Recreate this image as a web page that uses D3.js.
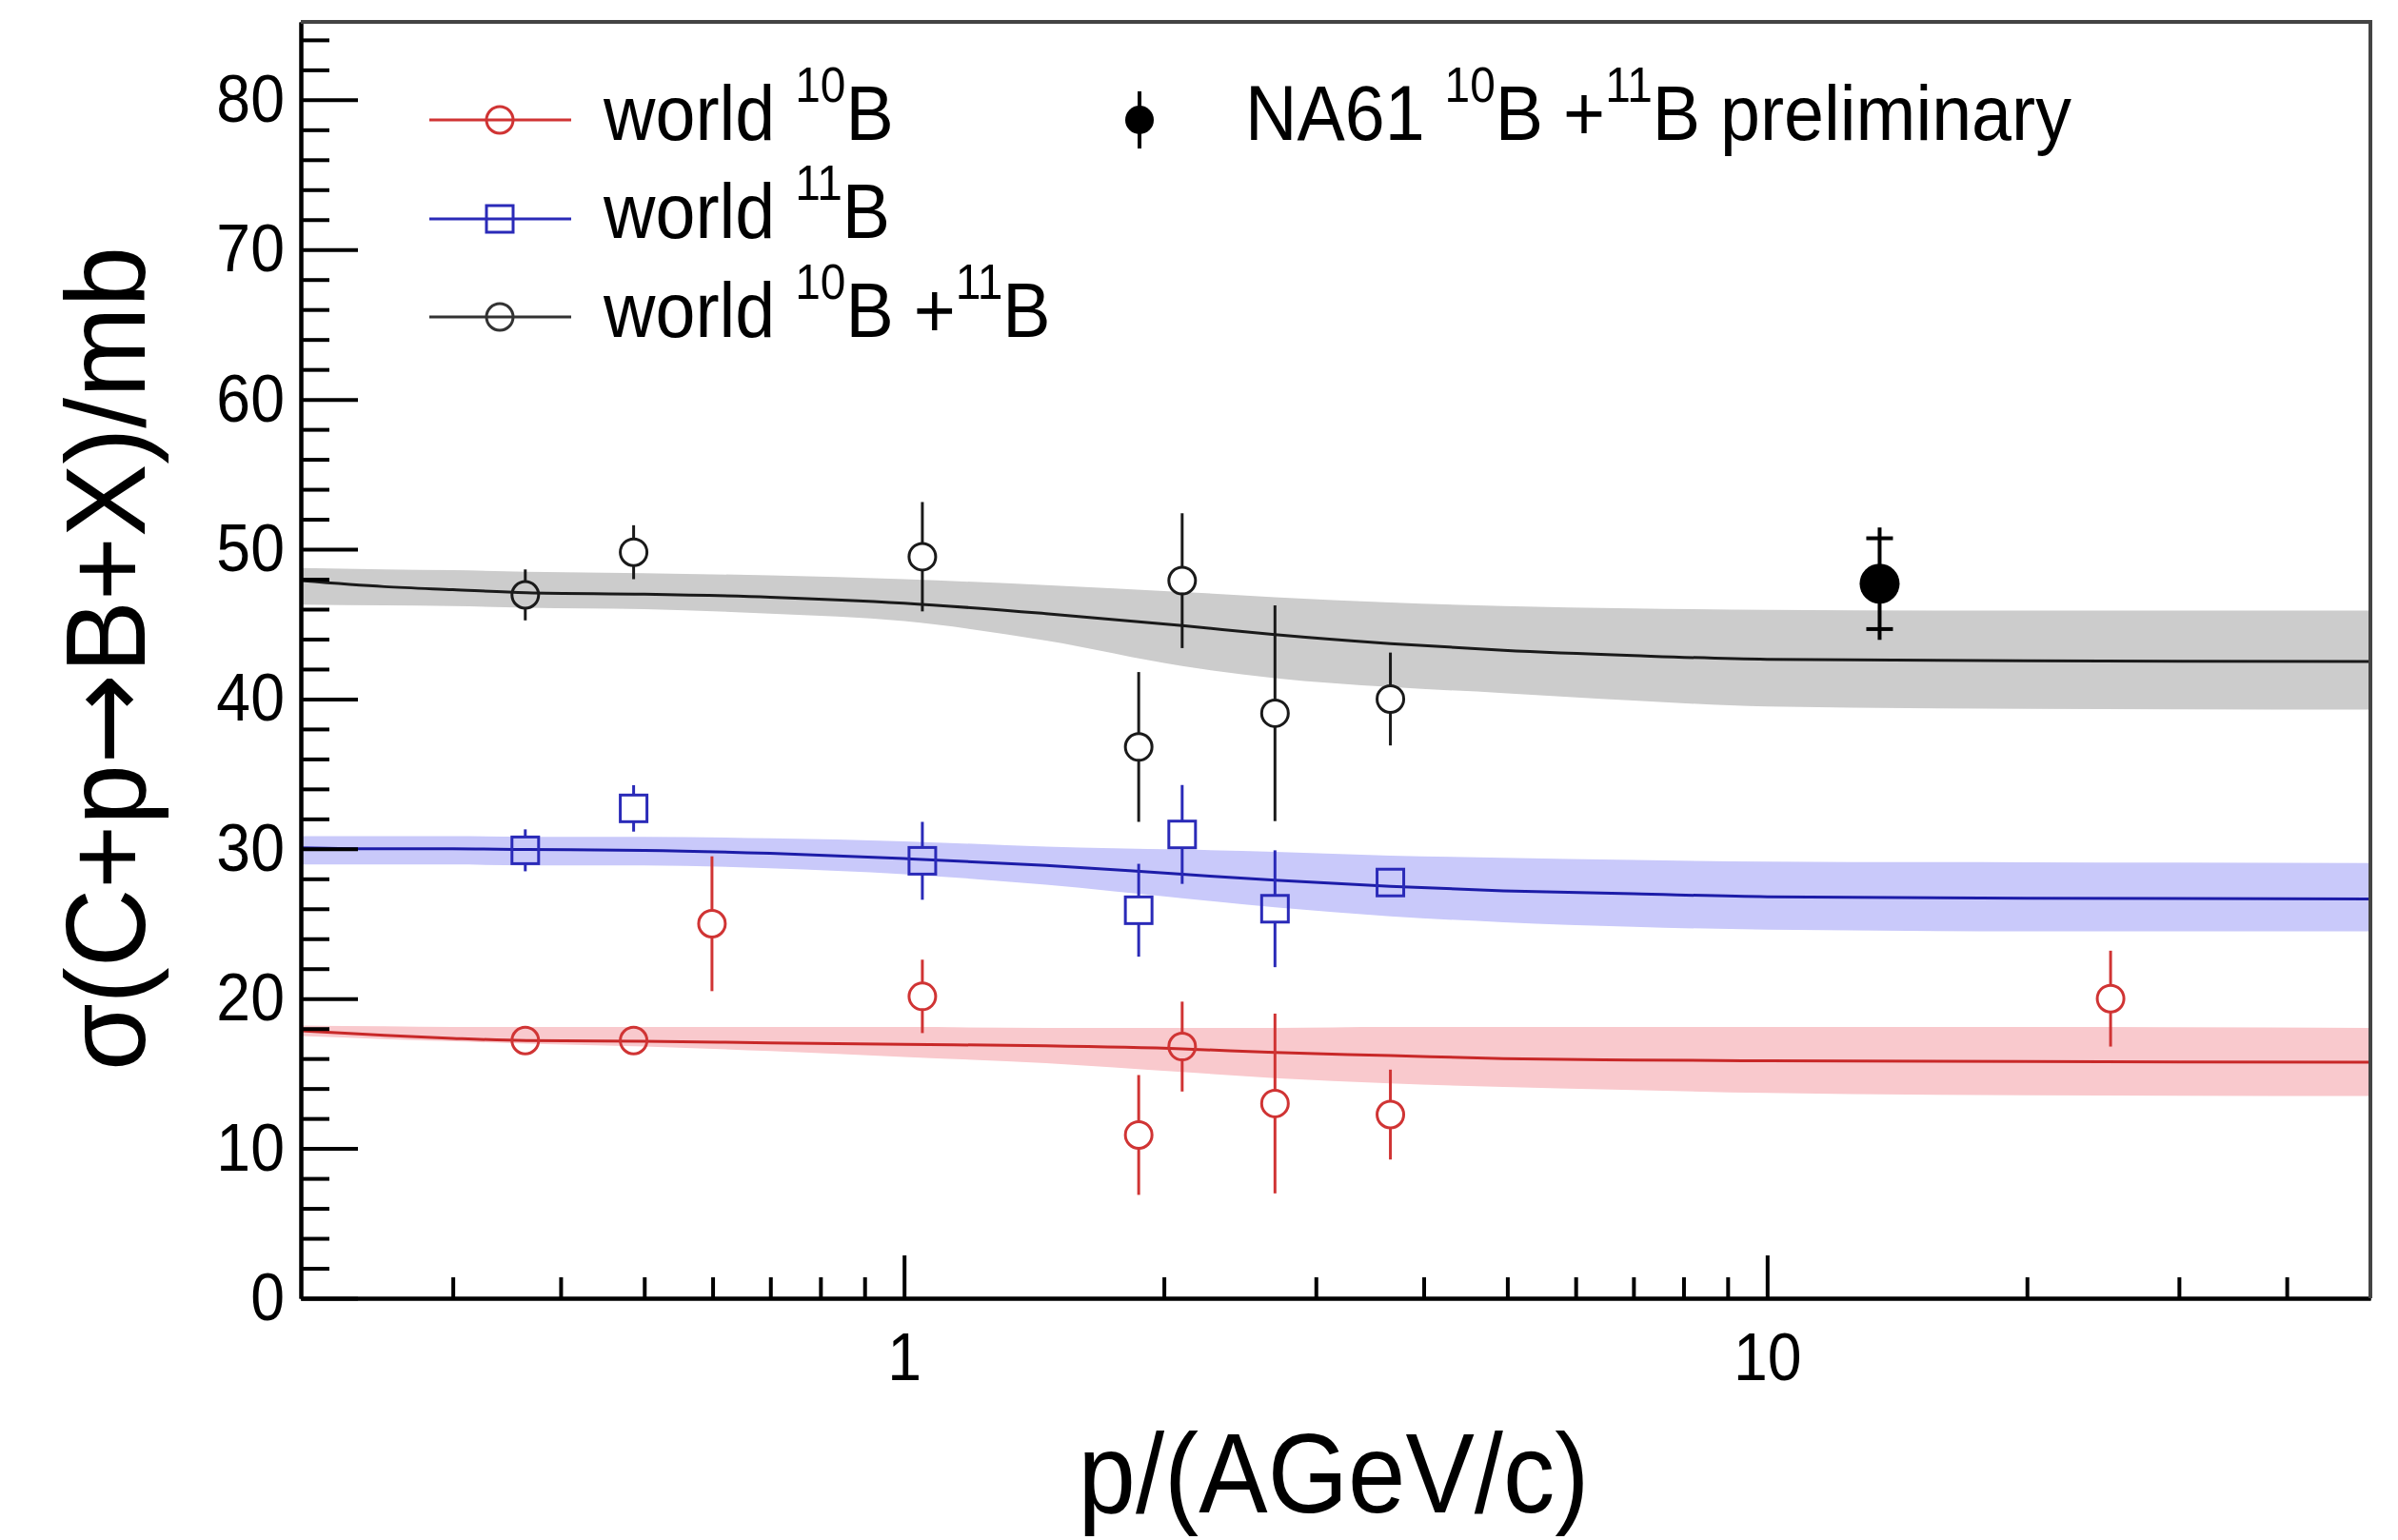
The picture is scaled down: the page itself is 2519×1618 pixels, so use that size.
<!DOCTYPE html>
<html>
<head>
<meta charset="utf-8">
<script src="https://cdn.jsdelivr.net/npm/d3@7"></script>
<style>
  body { margin: 0; background: #fff; }
  text { font-family: "Liberation Sans", Arial, Helvetica, sans-serif; fill: #000; }
</style>
</head>
<body>
<script>
// measured points, world data
const pB10 = [0.364, 0.486, 0.599, 1.05, 1.87, 2.10, 2.69, 3.66, 25.0];
const sB10 = [17.2, 17.2, 25.0, 20.15, 10.9, 16.8, 13.0, 12.26, 20.0];
const eB10 = [0.6, 0.6, 4.5, 2.45, 4.0, 3.0, 6.0, 3.0, 3.2];

const pB11 = [0.364, 0.486, 1.05, 1.87, 2.10, 2.69, 3.66];
const sB11 = [29.9, 32.7, 29.2, 25.9, 30.96, 26.0, 27.75];
const eB11 = [1.4, 1.55, 2.6, 3.1, 3.3, 3.9, 0.8];

const pSum = [0.364, 0.486, 1.05, 1.87, 2.10, 2.69, 3.66];
const sSum = [46.95, 49.8, 49.5, 36.8, 47.9, 39.05, 40.0];
const eSum = [1.7, 1.8, 3.65, 5.0, 4.5, 7.2, 3.1];

// NA61 preliminary
const pNA61 = [13.5];
const sNA61 = [47.7];
const statNA61 = [3.75];
const sysNA61 = [3.03];

// fitted curves and their bands
const fitP = [0.2, 0.25, 0.3, 0.365, 0.5, 0.7, 1, 1.46, 2.1, 2.69, 3.66, 4.95, 7, 10, 20, 50];
const fitSum = [47.9, 47.5, 47.3, 47.1, 47.0, 46.8, 46.4, 45.7, 44.9, 44.3, 43.7, 43.25, 42.9, 42.65, 42.55, 42.5];
const fitSumHi = [48.75, 48.65, 48.6, 48.5, 48.4, 48.25, 48.0, 47.6, 47.15, 46.8, 46.45, 46.2, 46.05, 45.95, 45.9, 45.9];
const fitSumLo = [46.3, 46.25, 46.2, 46.1, 46.0, 45.7, 45.2, 43.9, 42.2, 41.4, 40.8, 40.4, 39.9, 39.5, 39.35, 39.3];
const fitB11 = [30.07, 30.0, 30.0, 29.95, 29.9, 29.7, 29.35, 28.9, 28.3, 27.9, 27.5, 27.2, 27.0, 26.8, 26.7, 26.65];
const fitB11Hi = [30.85, 30.85, 30.85, 30.8, 30.8, 30.7, 30.5, 30.15, 29.95, 29.8, 29.55, 29.4, 29.25, 29.15, 29.1, 29.05];
const fitB11Lo = [28.95, 28.95, 28.95, 28.9, 28.9, 28.7, 28.3, 27.6, 26.7, 26.1, 25.5, 25.1, 24.8, 24.6, 24.5, 24.5];
const fitB10 = [17.85, 17.55, 17.35, 17.2, 17.15, 17.05, 16.95, 16.85, 16.65, 16.4, 16.2, 16.0, 15.9, 15.85, 15.8, 15.75];
const fitB10Hi = [18.2, 18.15, 18.1, 18.1, 18.1, 18.1, 18.1, 18.05, 18.05, 18.05, 18.1, 18.1, 18.1, 18.1, 18.1, 18.05];
const fitB10Lo = [17.5, 17.3, 17.15, 17.0, 16.8, 16.5, 16.1, 15.7, 15.1, 14.7, 14.35, 14.1, 13.9, 13.7, 13.55, 13.5];

// axis ticks
const xMajor = [1, 10];
const xMinor = [0.3, 0.4, 0.5, 0.6, 0.7, 0.8, 0.9, 2, 3, 4, 5, 6, 7, 8, 9, 20, 30, 40];
const yMajor = [0, 10, 20, 30, 40, 50, 60, 70, 80];
const yMinor = d3.range(2, 86, 2).filter(v => v % 10 !== 0);

const W = 2519, H = 1618;
const mLeft = 316, mRight = 2490, mTop = 23, mBottom = 1364;
const SX = 0.92;

const red = "#d03434", blue = "#2a2ab8", black = "#1a1a1a";

const svg = d3.select("body")
    .append("svg")
    .attr("width", W)
    .attr("height", H);

const x = d3.scaleLog().domain([0.2, 50]).range([mLeft, mRight]);
const y = d3.scaleLinear().domain([0, 85.2]).range([mBottom, mTop]);

svg.append("clipPath").attr("id", "clip")
    .append("rect")
    .attr("x", mLeft).attr("y", mTop)
    .attr("width", mRight - mLeft).attr("height", mBottom - mTop);

const plot = svg.append("g").attr("clip-path", "url(#clip)");

// bands and fit lines
const fits = [
    {mid: fitSum, hi: fitSumHi, lo: fitSumLo, band: "#cccccc", line: black},
    {mid: fitB11, hi: fitB11Hi, lo: fitB11Lo, band: "#c9c9fa", line: "#1c1ca8"},
    {mid: fitB10, hi: fitB10Hi, lo: fitB10Lo, band: "#f9c9cd", line: "#c82828"}
];

const area = d3.area()
    .x(d => x(d.p))
    .y0(d => y(d.lo))
    .y1(d => y(d.hi))
    .curve(d3.curveMonotoneX);

const line = d3.line()
    .x(d => x(d.p))
    .y(d => y(d.v))
    .curve(d3.curveMonotoneX);

fits.forEach(f => {
    const rows = fitP.map((p, i) => ({p: p, v: f.mid[i], hi: f.hi[i], lo: f.lo[i]}));
    plot.append("path")
        .attr("d", area(rows))
        .attr("fill", f.band);
});
fits.forEach(f => {
    const rows = fitP.map((p, i) => ({p: p, v: f.mid[i]}));
    plot.append("path")
        .attr("d", line(rows))
        .attr("fill", "none")
        .attr("stroke", f.line)
        .attr("stroke-width", 3);
});

// data points with error bars (gap around marker)
const R = 14;
function drawSeries(ps, vs, es, color, shape) {
    const g = plot.append("g");
    ps.forEach((p, i) => {
        const cx = x(p), cy = y(vs[i]);
        const yHi = y(vs[i] + es[i]), yLo = y(vs[i] - es[i]);
        if (yHi < cy - R) {
            g.append("line")
                .attr("x1", cx).attr("x2", cx)
                .attr("y1", yHi).attr("y2", cy - R)
                .attr("stroke", color).attr("stroke-width", 3);
        }
        if (yLo > cy + R) {
            g.append("line")
                .attr("x1", cx).attr("x2", cx)
                .attr("y1", cy + R).attr("y2", yLo)
                .attr("stroke", color).attr("stroke-width", 3);
        }
        if (shape === "square") {
            g.append("rect")
                .attr("x", cx - R).attr("y", cy - R)
                .attr("width", 2 * R).attr("height", 2 * R)
                .attr("fill", "none")
                .attr("stroke", color).attr("stroke-width", 3);
        } else {
            g.append("circle")
                .attr("cx", cx).attr("cy", cy).attr("r", R)
                .attr("fill", "none")
                .attr("stroke", color).attr("stroke-width", 3);
        }
    });
}

drawSeries(pSum, sSum, eSum, black, "circle");
drawSeries(pB11, sB11, eB11, blue, "square");
drawSeries(pB10, sB10, eB10, red, "circle");

// NA61 point
pNA61.forEach((p, i) => {
    const cx = x(p);
    plot.append("line")
        .attr("x1", cx).attr("x2", cx)
        .attr("y1", y(sNA61[i] + statNA61[i]))
        .attr("y2", y(sNA61[i] - statNA61[i]))
        .attr("stroke", "#000").attr("stroke-width", 4);
    [sNA61[i] + sysNA61[i], sNA61[i] - sysNA61[i]].forEach(v => {
        plot.append("line")
            .attr("x1", cx - 14).attr("x2", cx + 14)
            .attr("y1", y(v)).attr("y2", y(v))
            .attr("stroke", "#000").attr("stroke-width", 4);
    });
    plot.append("circle")
        .attr("cx", cx).attr("cy", y(sNA61[i]))
        .attr("r", 21)
        .attr("fill", "#000");
});

// axes
function styleAxis(g) {
    g.select(".domain").attr("stroke", "#000").attr("stroke-width", 4);
    g.selectAll(".tick line").attr("stroke", "#000").attr("stroke-width", 4);
    g.selectAll(".tick text")
        .attr("font-family", "Liberation Sans, Arial, sans-serif")
        .attr("font-size", 70)
        .attr("fill", "#000");
}

const yAxis = svg.append("g")
    .attr("transform", `translate(${mLeft},0)`)
    .call(d3.axisLeft(y).tickValues(yMajor).tickFormat(d3.format("d"))
        .tickSizeInner(-60).tickSizeOuter(0).tickPadding(17));
styleAxis(yAxis);
yAxis.selectAll(".tick text")
    .attr("x", 0)
    .attr("transform", `translate(-17,0) scale(${SX},1)`);

const yAxisMinor = svg.append("g")
    .attr("transform", `translate(${mLeft},0)`)
    .call(d3.axisLeft(y).tickValues(yMinor).tickFormat("")
        .tickSizeInner(-30).tickSizeOuter(0));
styleAxis(yAxisMinor);

const xAxis = svg.append("g")
    .attr("transform", `translate(0,${mBottom})`)
    .call(d3.axisBottom(x).tickValues(xMajor).tickFormat(d3.format("d"))
        .tickSizeInner(-45).tickSizeOuter(0).tickPadding(36));
styleAxis(xAxis);
xAxis.selectAll(".tick text")
    .attr("transform", `scale(${SX},1)`);

const xAxisMinor = svg.append("g")
    .attr("transform", `translate(0,${mBottom})`)
    .call(d3.axisBottom(x).tickValues(xMinor).tickFormat("")
        .tickSizeInner(-22).tickSizeOuter(0));
styleAxis(xAxisMinor);

// frame top and right
svg.append("path")
    .attr("d", `M${mLeft},${mTop}H${mRight}V${mBottom}`)
    .attr("fill", "none")
    .attr("stroke", "#444")
    .attr("stroke-width", 4);

// axis titles
svg.append("text")
    .attr("transform", `translate(1401,1589) scale(${SX},1)`)
    .attr("text-anchor", "middle")
    .attr("font-size", 118)
    .text("p/(AGeV/c)");

const yTitle = svg.append("text")
    .attr("transform", `translate(152,692) rotate(-90) scale(0.97,1)`)
    .attr("text-anchor", "middle")
    .attr("font-size", 118);
yTitle.append("tspan").text("σ(C+p");
yTitle.append("tspan").attr("font-family", "DejaVu Sans").text("→");
yTitle.append("tspan").text("B+X)/mb");

// legend
const legendNames = [
    [["world ", 0], ["10", 1], ["B", 0]],
    [["world ", 0], ["11", 1], ["B", 0]],
    [["world ", 0], ["10", 1], ["B +", 0], ["11", 1], ["B", 0]]
];
const legendColors = [red, blue, "#333"];
const legendShapes = ["circle", "square", "circle"];
const na61Name = [["NA61 ", 0], ["10", 1], ["B +", 0], ["11", 1], ["B preliminary", 0]];

function richText(sel, parts) {
    let raised = false;
    parts.forEach(([s, sup]) => {
        const t = sel.append("tspan").text(s);
        if (sup && !raised) { t.attr("dy", -40).attr("font-size", 52); raised = true; }
        else if (!sup && raised) { t.attr("dy", 40).attr("font-size", 82); raised = false; }
        else if (sup) { t.attr("font-size", 52); }
    });
}

const legendLineY = [126, 230, 333];
const legendTextY = [147, 250, 354];
legendNames.forEach((parts, i) => {
    const lg = svg.append("g");
    lg.append("line")
        .attr("x1", 451).attr("x2", 600)
        .attr("y1", legendLineY[i]).attr("y2", legendLineY[i])
        .attr("stroke", legendColors[i]).attr("stroke-width", 3);
    if (legendShapes[i] === "square") {
        lg.append("rect")
            .attr("x", 525 - R).attr("y", legendLineY[i] - R)
            .attr("width", 2 * R).attr("height", 2 * R)
            .attr("fill", "none").attr("stroke", legendColors[i]).attr("stroke-width", 3);
    } else {
        lg.append("circle")
            .attr("cx", 525).attr("cy", legendLineY[i]).attr("r", R)
            .attr("fill", "none").attr("stroke", legendColors[i]).attr("stroke-width", 3);
    }
    const t = lg.append("text")
        .attr("transform", `translate(634,${legendTextY[i]}) scale(${SX},1)`)
        .attr("font-size", 82);
    richText(t, parts);
});

const ng = svg.append("g");
ng.append("line")
    .attr("x1", 1197).attr("x2", 1197)
    .attr("y1", 96).attr("y2", 156)
    .attr("stroke", "#000").attr("stroke-width", 4);
ng.append("circle")
    .attr("cx", 1197).attr("cy", 126).attr("r", 15)
    .attr("fill", "#000");
const nt = ng.append("text")
    .attr("transform", `translate(1308,147) scale(${SX},1)`)
    .attr("font-size", 82);
richText(nt, na61Name);
</script>
</body>
</html>
